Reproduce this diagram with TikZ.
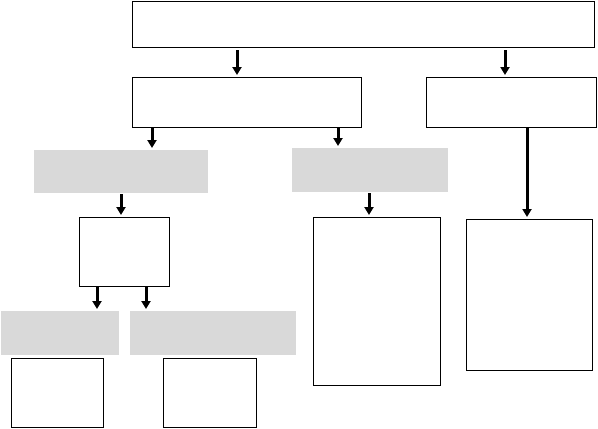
\documentclass[tikz,border=0pt]{standalone}
\usetikzlibrary{arrows.meta}
\definecolor{panelgray}{HTML}{D9D9D9}
\tikzset{
  box/.style={draw=black, line width=0.9pt, fill=white, inner sep=0pt, outer sep=0pt},
  graybox/.style={draw=none, fill=panelgray, inner sep=0pt, outer sep=0pt},
  arr/.style={line width=3pt, -{Triangle[width=9pt,length=8pt]}, shorten <=1pt, shorten >=2pt}
}
\begin{document}
\begin{tikzpicture}[x=1pt,y=-1pt]
\useasboundingbox[fill=white] (0,0) rectangle (598,429);
% boxes
\node[box, minimum width=462pt, minimum height=46pt] (top) at (363,24) {};
\node[box, minimum width=229pt, minimum height=50pt] (A) at (246.5,102) {};
\node[box, minimum width=170pt, minimum height=50pt] (B) at (511.5,102) {};
\node[graybox, minimum width=174pt, minimum height=43pt] (g1) at (121,171.5) {};
\node[graybox, minimum width=156pt, minimum height=44pt] (g4) at (370,170) {};
\node[box, minimum width=90pt, minimum height=69pt] (C) at (124,251.5) {};
\node[box, minimum width=127pt, minimum height=168pt] (F) at (376.5,301) {};
\node[box, minimum width=126pt, minimum height=151pt] (G) at (529,294.5) {};
\node[graybox, minimum width=118pt, minimum height=44pt] (g2) at (60,333) {};
\node[graybox, minimum width=166pt, minimum height=44pt] (g3) at (213,333) {};
\node[box, minimum width=92pt, minimum height=69pt] (D) at (57,392.5) {};
\node[box, minimum width=93pt, minimum height=69pt] (E) at (209.5,392.5) {};
% connectors
\draw[arr, shorten <=3pt] (top.south -| 237,0) -- (A.north -| 237,0);
\draw[arr, shorten <=3pt] (top.south -| 505,0) -- (B.north -| 505,0);
\draw[arr] (A.south -| 152,0) -- (g1.north -| 152,0);
\draw[arr] (A.south -| 338,0) -- (g4.north -| 338,0);
\draw[arr] (B.south -| 527,0) -- (G.north -| 527,0);
\draw[arr] (g1.south -| 121,0) -- (C.north -| 121,0);
\draw[arr] (g4.south -| 369,0) -- (F.north -| 369,0);
\draw[arr] (C.south -| 97,0) -- (g2.north -| 97,0);
\draw[arr] (C.south -| 146,0) -- (g3.north -| 146,0);
\end{tikzpicture}
\end{document}
